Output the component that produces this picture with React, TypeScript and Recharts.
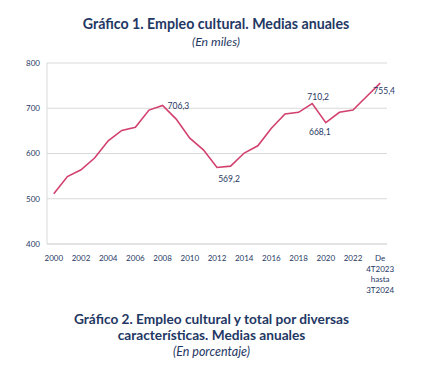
import React from "react";
import { LineChart, Line, XAxis, YAxis, CartesianGrid, LabelList } from "recharts";

const categories = [
  "2000", "2001", "2002", "2003", "2004", "2005", "2006", "2007", "2008", "2009",
  "2010", "2011", "2012", "2013", "2014", "2015", "2016", "2017", "2018", "2019",
  "2020", "2021", "2022", "2023", "De 4T2023 hasta 3T2024",
];
const empleo = [
  511, 549, 564, 590, 628, 651, 658, 696, 706.3, 676,
  634, 608, 569.2, 572, 601, 617, 656, 687.5, 691, 710.2,
  668.1, 691, 696, 726, 755.4,
];
const yTicks = [400, 500, 600, 700, 800];
const labelled: Record<number, { dx: number; dy: number; anchor: string }> = {
  8: { dx: 5, dy: 1, anchor: "start" },
  12: { dx: 12, dy: 12, anchor: "middle" },
  19: { dx: 6, dy: -7, anchor: "middle" },
  20: { dx: -6, dy: 9, anchor: "middle" },
  24: { dx: 4, dy: 8, anchor: "middle" },
};

const data = categories.map((c, i) => ({ cat: c, v: empleo[i] }));

const NAVY = "#1F3864";
const FONT = "Lato, 'Open Sans', sans-serif";

const XTick = (props: any) => {
  const { x, y, payload } = props;
  const words = String(payload.value).split(" ");
  const lines = words.length > 1 ? ["De", "4T2023", "hasta", "3T2024"] : words;
  return (
    <text x={x} y={y} textAnchor="middle" fill={NAVY} fontSize={8} fontFamily={FONT}>
      {lines.map((l, i) => (
        <tspan key={i} x={x} dy={i === 0 ? 9 : 10.5}>
          {l}
        </tspan>
      ))}
    </text>
  );
};

const fmt = (v: number) => v.toFixed(1).replace(".", ",");

const ValueLabel = (props: any) => {
  const { x, y, index, value } = props;
  const cfg = labelled[index];
  if (!cfg) return null;
  return (
    <text
      x={x + cfg.dx}
      y={y + cfg.dy}
      textAnchor={cfg.anchor}
      dominantBaseline="central"
      fill={NAVY}
      fontSize={8.5}
      fontFamily={FONT}
    >
      {fmt(value)}
    </text>
  );
};

export default function App() {
  return (
    <div style={{ position: "absolute", left: 0, top: 0, width: 423, height: 371, background: "#fff", fontFamily: FONT }}>
      <div style={{ position: "absolute", top: 15, left: 0, width: 432, textAlign: "center", color: NAVY, fontWeight: 700, fontSize: 14.2, lineHeight: "18px" }}>
        Gráfico 1. Empleo cultural. Medias anuales
      </div>
      <div style={{ position: "absolute", top: 34, left: 0, width: 432, textAlign: "center", color: NAVY, fontStyle: "italic", fontSize: 12.3, lineHeight: "16px" }}>
        (En miles)
      </div>
      <div style={{ position: "absolute", top: 0, left: 0 }}>
        <LineChart width={423} height={371} data={data} margin={{ top: 63, right: 36, bottom: 97, left: 0 }}>
          <CartesianGrid vertical={false} stroke="#D9D9D9" />
          <XAxis
            dataKey="cat"
            interval={1}
            tick={<XTick />}
            tickLine={false}
            axisLine={{ stroke: "#D9D9D9" }}
            padding={{ left: 6.8, right: 6.8 }}
            height={30}
          />
          <YAxis
            domain={[400, 800]}
            ticks={yTicks}
            width={47}
            tickLine={false}
            tickSize={0}
            tickMargin={7}
            axisLine={{ stroke: "#D9D9D9" }}
            tick={{ fill: NAVY, fontSize: 8, fontFamily: FONT }}
          />
          <Line dataKey="v" stroke="#D2416E" strokeWidth={1.6} dot={false} isAnimationActive={false}>
            <LabelList dataKey="v" content={<ValueLabel />} />
          </Line>
        </LineChart>
      </div>
      <div style={{ position: "absolute", top: 311, left: 0, width: 423, textAlign: "center", color: NAVY, fontWeight: 700, fontSize: 13.7, lineHeight: "16px" }}>
        Gráfico 2. Empleo cultural y total por diversas
        <br />
        características. Medias anuales
      </div>
      <div style={{ position: "absolute", top: 344, left: 0, width: 423, textAlign: "center", color: NAVY, fontStyle: "italic", fontSize: 12.5, lineHeight: "16px" }}>
        (En porcentaje)
      </div>
    </div>
  );
}
